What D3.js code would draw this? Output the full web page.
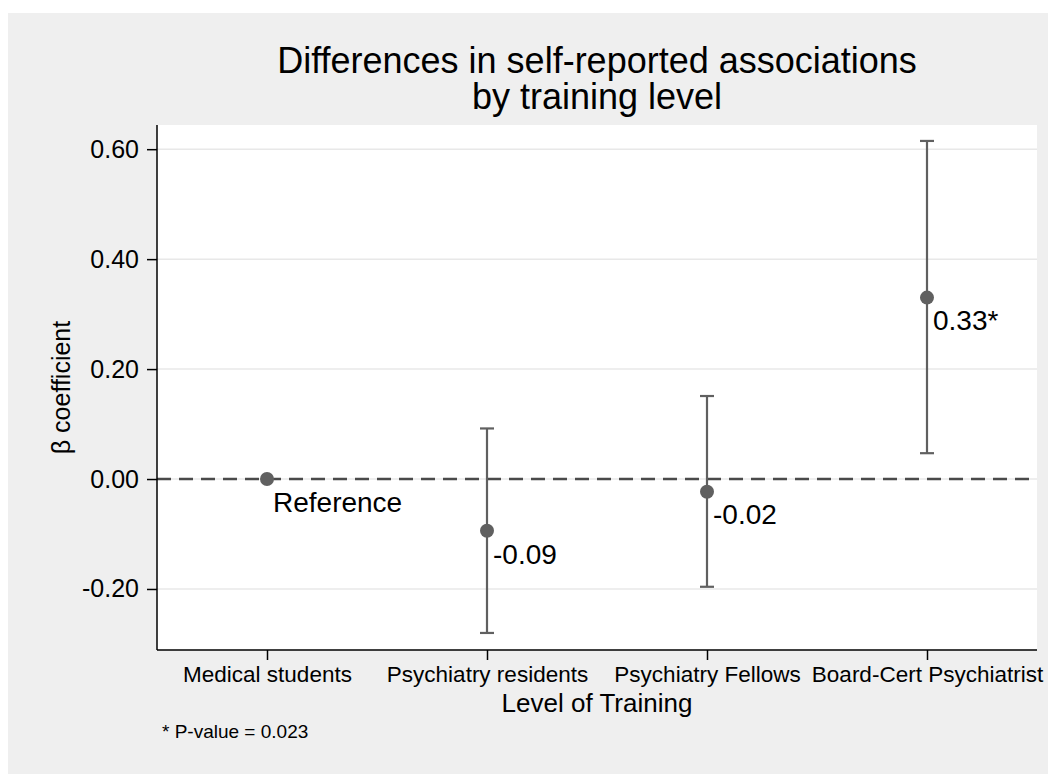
<!DOCTYPE html>
<html>
<head>
<meta charset="utf-8">
<script src="https://cdn.jsdelivr.net/npm/d3@7"></script>
<style>
  body { margin: 0; background: #fff; }
  text { font-family: "Liberation Sans", Arial, Helvetica, sans-serif; fill: #000; }
</style>
</head>
<body>
<div id="chart"></div>
<script>
var categories = ["Medical students", "Psychiatry residents", "Psychiatry Fellows", "Board-Cert Psychiatrist"];
var estimates = [0, -0.094, -0.023, 0.33];
var lower = [null, -0.28, -0.196, 0.047];
var upper = [null, 0.092, 0.151, 0.615];
var pointLabels = ["Reference", "-0.09", "-0.02", "0.33*"];
var yTicks = [-0.2, 0, 0.2, 0.4, 0.6];
var titleLines = ["Differences in self-reported associations", "by training level"];

var w = 1048, h = 774;
var pLeft = 157, pRight = 1037, pTop = 125, pBottom = 650;

var svg = d3.select("#chart").append("svg").attr("width", w).attr("height", h);

svg.append("rect").attr("x", 8).attr("y", 13).attr("width", w - 8).attr("height", h - 13).style("fill", "#efefef");
svg.append("rect").attr("x", pLeft).attr("y", pTop).attr("width", pRight - pLeft).attr("height", pBottom - pTop).style("fill", "#fff");

var x = d3.scalePoint().domain(categories).range([pLeft, pRight]).padding(0.5);
var y = d3.scaleLinear().domain([-0.311, 0.644]).range([pBottom, pTop]);

// gridlines
svg.append("g").selectAll("line").data(yTicks).enter().append("line")
  .attr("x1", pLeft).attr("x2", pRight)
  .attr("y1", function(d){ return y(d); }).attr("y2", function(d){ return y(d); })
  .style("stroke", "#e8e8e8").style("stroke-width", 1.5);

// reference line
svg.append("line").attr("x1", pLeft).attr("x2", pRight).attr("y1", y(0)).attr("y2", y(0))
  .style("stroke", "#4a4a4a").style("stroke-width", 2.5).style("stroke-dasharray", "14,8");

// axes
var fmt = d3.format(".2f");
var yAxis = svg.append("g").attr("transform", "translate(" + pLeft + ",0)")
  .call(d3.axisLeft(y).tickValues(yTicks).tickFormat(function(d){ return fmt(d).replace("\u2212", "-"); }).tickSize(10).tickPadding(8));
yAxis.selectAll("text").style("font-size", "25px");
yAxis.select(".domain").attr("d", "M0," + pTop + "V" + pBottom).style("stroke-width", 1.5);
yAxis.selectAll(".tick line").style("stroke-width", 1.5);

var xAxis = svg.append("g").attr("transform", "translate(0," + pBottom + ")")
  .call(d3.axisBottom(x).tickSize(10).tickPadding(6));
xAxis.selectAll("text").style("font-size", "22.5px");
xAxis.select(".domain").attr("d", "M" + pLeft + ",0H" + pRight).style("stroke-width", 1.5);
xAxis.selectAll(".tick line").style("stroke-width", 1.5);

// error bars
var idx = d3.range(categories.length).filter(function(i){ return lower[i] !== null; });
var bars = svg.append("g").selectAll("g").data(idx).enter().append("g")
  .style("stroke", "#606060").style("stroke-width", 2.2);
bars.append("line")
  .attr("x1", function(i){ return x(categories[i]); }).attr("x2", function(i){ return x(categories[i]); })
  .attr("y1", function(i){ return y(lower[i]); }).attr("y2", function(i){ return y(upper[i]); });
bars.append("line")
  .attr("x1", function(i){ return x(categories[i]) - 7; }).attr("x2", function(i){ return x(categories[i]) + 7; })
  .attr("y1", function(i){ return y(lower[i]); }).attr("y2", function(i){ return y(lower[i]); });
bars.append("line")
  .attr("x1", function(i){ return x(categories[i]) - 7; }).attr("x2", function(i){ return x(categories[i]) + 7; })
  .attr("y1", function(i){ return y(upper[i]); }).attr("y2", function(i){ return y(upper[i]); });

// points
svg.append("g").selectAll("circle").data(estimates).enter().append("circle")
  .attr("cx", function(d, i){ return x(categories[i]); })
  .attr("cy", function(d){ return y(d); })
  .attr("r", 7).style("fill", "#606060");

svg.append("g").selectAll("text").data(estimates).enter().append("text")
  .attr("x", function(d, i){ return x(categories[i]) + 6; })
  .attr("y", function(d){ return y(d) + 23; })
  .attr("dy", "0.35em")
  .style("font-size", "28px")
  .text(function(d, i){ return pointLabels[i]; });

// titles
var cx = (pLeft + pRight) / 2;
var title = svg.append("text").attr("x", cx).attr("y", 73).attr("text-anchor", "middle").style("font-size", "36px");
title.selectAll("tspan").data(titleLines).enter().append("tspan")
  .attr("x", cx).attr("dy", function(d, i){ return i ? 36 : 0; })
  .text(function(d){ return d; });

svg.append("text").attr("x", cx).attr("y", 712).attr("text-anchor", "middle").style("font-size", "26px")
  .text("Level of Training");

svg.append("text").attr("transform", "translate(70," + ((pTop + pBottom) / 2) + ") rotate(-90)")
  .attr("text-anchor", "middle").style("font-size", "25px")
  .text("β coefficient");

svg.append("text").attr("x", 162).attr("y", 738).style("font-size", "19px")
  .text("* P-value = 0.023");
</script>
</body>
</html>
